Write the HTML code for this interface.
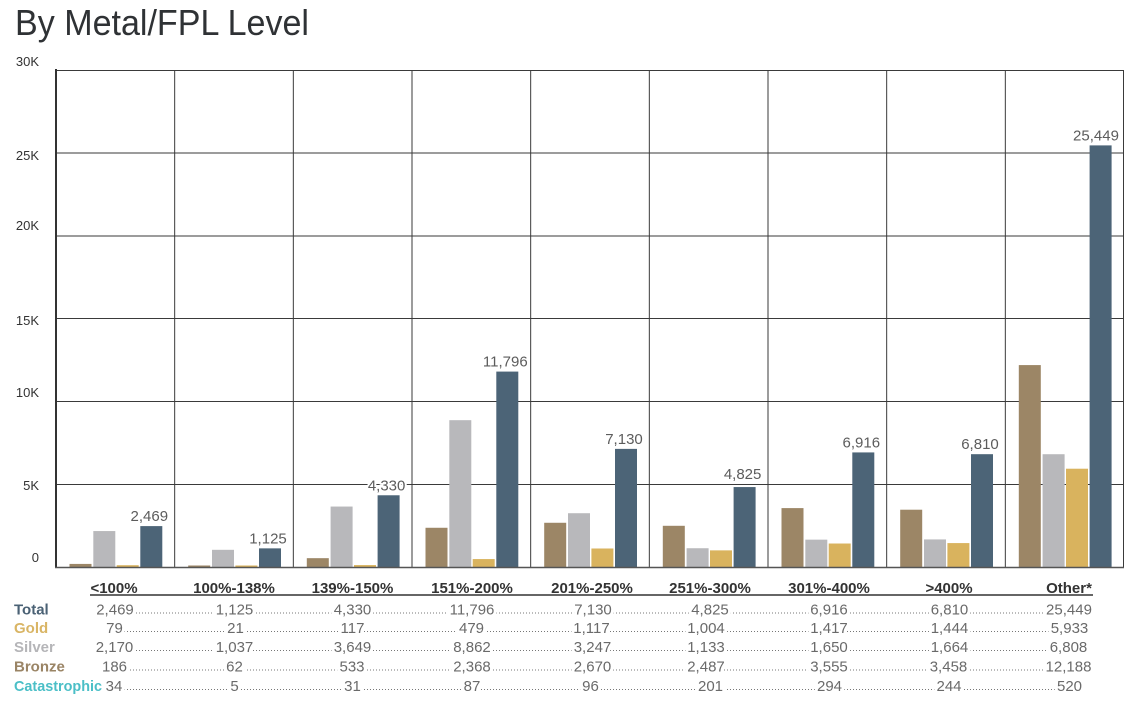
<!DOCTYPE html>
<html>
<head>
<meta charset="utf-8">
<style>
html,body{margin:0;padding:0;background:#fff;}
svg{display:block;}
text{font-family:"Liberation Sans",sans-serif;}
</style>
</head>
<body>
<svg width="1133" height="704" viewBox="0 0 1133 704" xmlns="http://www.w3.org/2000/svg">
<rect x="0" y="0" width="1133" height="704" fill="#fff"/>
<!-- Title -->
<text x="15" y="35" font-size="36" fill="#2f3235" textLength="294" lengthAdjust="spacingAndGlyphs">By Metal/FPL Level</text>

<!-- Y labels -->
<g font-size="13" fill="#333" text-anchor="end">
<text x="39" y="66">30K</text>
<text x="39" y="160">25K</text>
<text x="39" y="230">20K</text>
<text x="39" y="325">15K</text>
<text x="39" y="397">10K</text>
<text x="39" y="490">5K</text>
<text x="39" y="562">0</text>
</g>

<!-- Horizontal gridlines -->
<g stroke="#3a3a3a" stroke-width="1">
<line x1="56" y1="70.5" x2="1124" y2="70.5"/>
<line x1="56" y1="153" x2="1124" y2="153"/>
<line x1="56" y1="236" x2="1124" y2="236"/>
<line x1="56" y1="318.5" x2="1124" y2="318.5"/>
<line x1="56" y1="401.5" x2="1124" y2="401.5"/>
<line x1="56" y1="484.5" x2="1124" y2="484.5"/>
</g>
<!-- Vertical gridlines -->
<g stroke="#3a3a3a" stroke-width="1">
<line x1="174.67" y1="70" x2="174.67" y2="567"/>
<line x1="293.33" y1="70" x2="293.33" y2="567"/>
<line x1="412" y1="70" x2="412" y2="567"/>
<line x1="530.67" y1="70" x2="530.67" y2="567"/>
<line x1="649.33" y1="70" x2="649.33" y2="567"/>
<line x1="768" y1="70" x2="768" y2="567"/>
<line x1="886.67" y1="70" x2="886.67" y2="567"/>
<line x1="1005.33" y1="70" x2="1005.33" y2="567"/>
<line x1="1123.5" y1="70" x2="1123.5" y2="567"/>
</g>

<!-- Bars -->
<g>
<rect x="69.5" y="563.92" width="22" height="3.08" fill="#9c8666"/>
<rect x="93.3" y="531.05" width="22" height="35.95" fill="#b8b8bb"/>
<rect x="116.7" y="565.2" width="22" height="1.8" fill="#d9b35e"/>
<rect x="140.3" y="526.1" width="22" height="40.9" fill="#4c6477"/>

<rect x="188.2" y="565.5" width="22" height="1.5" fill="#9c8666"/>
<rect x="212" y="549.82" width="22" height="17.18" fill="#b8b8bb"/>
<rect x="235.4" y="565.5" width="22" height="1.5" fill="#d9b35e"/>
<rect x="259" y="548.36" width="22" height="18.64" fill="#4c6477"/>

<rect x="306.8" y="558.17" width="22" height="8.83" fill="#9c8666"/>
<rect x="330.6" y="506.55" width="22" height="60.45" fill="#b8b8bb"/>
<rect x="354" y="565.06" width="22" height="1.94" fill="#d9b35e"/>
<rect x="377.6" y="495.27" width="22" height="71.73" fill="#4c6477"/>

<rect x="425.5" y="527.77" width="22" height="39.23" fill="#9c8666"/>
<rect x="449.3" y="420.18" width="22" height="146.82" fill="#b8b8bb"/>
<rect x="472.7" y="559.06" width="22" height="7.94" fill="#d9b35e"/>
<rect x="496.3" y="371.58" width="22" height="195.42" fill="#4c6477"/>

<rect x="544.2" y="522.77" width="22" height="44.23" fill="#9c8666"/>
<rect x="568" y="513.21" width="22" height="53.79" fill="#b8b8bb"/>
<rect x="591.4" y="548.49" width="22" height="18.51" fill="#d9b35e"/>
<rect x="615" y="448.88" width="22" height="118.12" fill="#4c6477"/>

<rect x="662.8" y="525.8" width="22" height="41.2" fill="#9c8666"/>
<rect x="686.6" y="548.23" width="22" height="18.77" fill="#b8b8bb"/>
<rect x="710" y="550.37" width="22" height="16.63" fill="#d9b35e"/>
<rect x="733.6" y="487.06" width="22" height="79.94" fill="#4c6477"/>

<rect x="781.5" y="508.1" width="22" height="58.9" fill="#9c8666"/>
<rect x="805.3" y="539.66" width="22" height="27.34" fill="#b8b8bb"/>
<rect x="828.7" y="543.52" width="22" height="23.48" fill="#d9b35e"/>
<rect x="852.3" y="452.42" width="22" height="114.58" fill="#4c6477"/>

<rect x="900.2" y="509.71" width="22" height="57.29" fill="#9c8666"/>
<rect x="924" y="539.43" width="22" height="27.57" fill="#b8b8bb"/>
<rect x="947.4" y="543.08" width="22" height="23.92" fill="#d9b35e"/>
<rect x="971" y="454.18" width="22" height="112.82" fill="#4c6477"/>

<rect x="1018.8" y="365.08" width="22" height="201.92" fill="#9c8666"/>
<rect x="1042.6" y="454.21" width="22" height="112.79" fill="#b8b8bb"/>
<rect x="1066" y="468.71" width="22" height="98.29" fill="#d9b35e"/>
<rect x="1089.6" y="145.39" width="22" height="421.61" fill="#4c6477"/>
</g>

<!-- Axes -->
<line x1="56" y1="69" x2="56" y2="568" stroke="#333" stroke-width="2"/>
<line x1="55" y1="567.5" x2="1124" y2="567.5" stroke="#555" stroke-width="1.6"/>

<!-- Total value labels -->
<g font-size="15" fill="#5c5c5c" text-anchor="middle" stroke="#fff" stroke-width="4" paint-order="stroke" stroke-linejoin="round">
<text x="149.3" y="521.1">2,469</text>
<text x="268" y="543.4">1,125</text>
<text x="386.6" y="490.3">4,330</text>
<text x="505.3" y="366.6">11,796</text>
<text x="624" y="443.9">7,130</text>
<text x="742.6" y="479">4,825</text>
<text x="861.3" y="447.4">6,916</text>
<text x="980" y="449.2">6,810</text>
<text x="1096" y="140.4">25,449</text>
</g>

<!-- Category headers -->
<g font-size="15" font-weight="bold" fill="#333" text-anchor="middle">
<text x="114" y="593">&lt;100%</text>
<text x="234" y="593">100%-138%</text>
<text x="352.5" y="593">139%-150%</text>
<text x="472" y="593">151%-200%</text>
<text x="592" y="593">201%-250%</text>
<text x="710" y="593">251%-300%</text>
<text x="829" y="593">301%-400%</text>
<text x="949" y="593">&gt;400%</text>
<text x="1069" y="593">Other*</text>
</g>
<line x1="90" y1="595" x2="1093" y2="595" stroke="#333" stroke-width="1.5"/>

<!-- Dotted leaders -->
<g stroke="#777" stroke-width="1.1" stroke-dasharray="1 2">
<line x1="115" y1="613" x2="1069" y2="613"/>
<line x1="115" y1="631.5" x2="1069" y2="631.5"/>
<line x1="115" y1="650.5" x2="1069" y2="650.5"/>
<line x1="115" y1="670" x2="1069" y2="670"/>
<line x1="115" y1="689.5" x2="1069" y2="689.5"/>
</g>

<!-- Table numbers -->
<g font-size="15" fill="#6a6a6a" text-anchor="middle" stroke="#fff" stroke-width="6" paint-order="stroke" stroke-linejoin="round">
<text x="115" y="614.5">2,469</text>
<text x="234.5" y="614.5">1,125</text>
<text x="352.5" y="614.5">4,330</text>
<text x="472" y="614.5">11,796</text>
<text x="593" y="614.5">7,130</text>
<text x="710" y="614.5">4,825</text>
<text x="829" y="614.5">6,916</text>
<text x="949.5" y="614.5">6,810</text>
<text x="1069" y="614.5">25,449</text>

<text x="114.5" y="633">79</text>
<text x="235.5" y="633">21</text>
<text x="352.5" y="633">117</text>
<text x="471.5" y="633">479</text>
<text x="591.5" y="633">1,117</text>
<text x="706" y="633">1,004</text>
<text x="829" y="633">1,417</text>
<text x="949.5" y="633">1,444</text>
<text x="1069.5" y="633">5,933</text>

<text x="114.5" y="652">2,170</text>
<text x="234.5" y="652">1,037</text>
<text x="352.5" y="652">3,649</text>
<text x="472" y="652">8,862</text>
<text x="592.5" y="652">3,247</text>
<text x="706" y="652">1,133</text>
<text x="829" y="652">1,650</text>
<text x="949.5" y="652">1,664</text>
<text x="1068.5" y="652">6,808</text>

<text x="114.5" y="671.5">186</text>
<text x="234.5" y="671.5">62</text>
<text x="352" y="671.5">533</text>
<text x="472" y="671.5">2,368</text>
<text x="592.5" y="671.5">2,670</text>
<text x="706" y="671.5">2,487</text>
<text x="829" y="671.5">3,555</text>
<text x="948.5" y="671.5">3,458</text>
<text x="1068.5" y="671.5">12,188</text>

<text x="114" y="691">34</text>
<text x="234.5" y="691">5</text>
<text x="352.5" y="691">31</text>
<text x="472" y="691">87</text>
<text x="590.5" y="691">96</text>
<text x="710.5" y="691">201</text>
<text x="829.5" y="691">294</text>
<text x="949" y="691">244</text>
<text x="1069.5" y="691">520</text>
</g>

<!-- Row labels (drawn last so they sit on top) -->
<g font-size="15" font-weight="bold">
<text x="14" y="614.5" fill="#4a6174">Total</text>
<text x="14" y="633" fill="#d9b565">Gold</text>
<text x="14" y="652" fill="#b5b5b8">Silver</text>
<text x="14" y="671.5" fill="#9a8465">Bronze</text>
<text x="14" y="691" fill="#4bbfc7" textLength="88" lengthAdjust="spacingAndGlyphs">Catastrophic</text>
</g>
</svg>
</body>
</html>
